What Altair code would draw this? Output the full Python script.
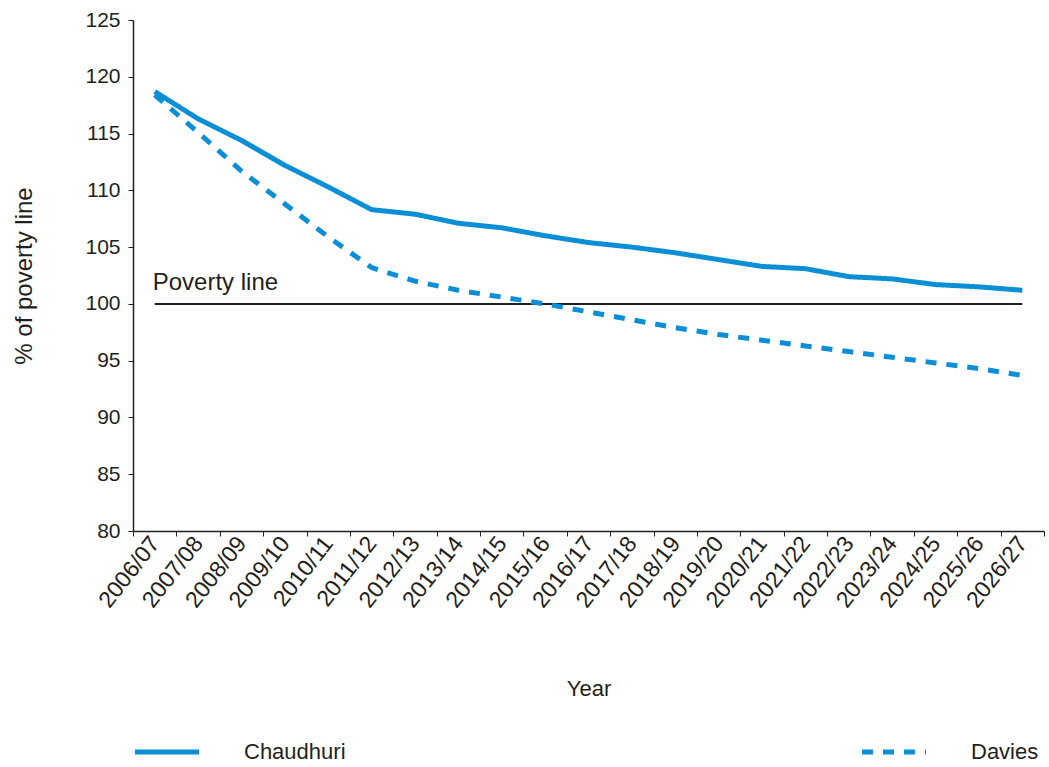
import altair as alt
import pandas as pd

years = ["2006/07", "2007/08", "2008/09", "2009/10", "2010/11", "2011/12", "2012/13",
         "2013/14", "2014/15", "2015/16", "2016/17", "2017/18", "2018/19", "2019/20",
         "2020/21", "2021/22", "2022/23", "2023/24", "2024/25", "2025/26", "2026/27"]
chaudhuri = [118.7, 116.3, 114.4, 112.2, 110.3, 108.3, 107.9, 107.1, 106.7, 106.0, 105.4,
             105.0, 104.5, 103.9, 103.3, 103.1, 102.4, 102.2, 101.7, 101.5, 101.2]
davies = [118.4, 115.1, 111.7, 108.8, 105.9, 103.2, 102.0, 101.2, 100.6, 100.0, 99.3,
          98.6, 97.9, 97.3, 96.8, 96.3, 95.8, 95.3, 94.8, 94.3, 93.7]
poverty = [100.0] * len(years)
series_names = ["Chaudhuri", "Davies"]

BLUE = "#0A8ED6"
INK = "#231F20"
FONT = "Liberation Sans"

rows = []
for name, vals in zip(series_names, [chaudhuri, davies]):
    for y, v in zip(years, vals):
        rows.append({"Year": y, "value": v, "series": name})
df = pd.DataFrame(rows)
pov_df = pd.DataFrame({"Year": years, "value": poverty})
label_df = pd.DataFrame({"Year": [years[0]], "value": [poverty[0]], "text": ["Poverty line"]})

xscale = alt.Scale(type="band", domain=years, paddingInner=0, paddingOuter=0)
yscale = alt.Scale(domain=[80, 125], nice=False, zero=False)

x_enc = alt.X(
    "Year:N", scale=xscale, bandPosition=0.5, sort=years, title="Year",
    axis=alt.Axis(labelAngle=-52, labelFontSize=23, labelFont=FONT, labelColor=INK,
                  tickBand="extent", tickSize=5, tickColor=INK, domainColor=INK,
                  domainWidth=1.5, titleFontSize=22, titleFont=FONT, titleColor=INK,
                  titleFontWeight="normal", titlePadding=67, labelPadding=3, grid=False),
)
y_enc = alt.Y(
    "value:Q", scale=yscale, title="% of poverty  line",
    axis=alt.Axis(values=list(range(80, 126, 5)), labelFontSize=21, labelFont=FONT,
                  labelColor=INK, tickSize=5, tickColor=INK, domainColor=INK,
                  domainWidth=1.5, titleFontSize=24, titleFont=FONT, titleColor=INK,
                  titleFontWeight="normal", titlePadding=48, labelPadding=8, grid=False),
)

lines = alt.Chart(df).mark_line(color=BLUE, strokeWidth=5).encode(
    x=x_enc,
    y=y_enc,
    strokeDash=alt.StrokeDash(
        "series:N",
        scale=alt.Scale(domain=series_names, range=[[1, 0], [11, 10]]),
        legend=alt.Legend(
            title=None, orient="none", legendX=-1, legendY=697, direction="horizontal",
            columns=2, columnPadding=505, symbolType="stroke", symbolSize=4100,
            symbolStrokeWidth=5, symbolStrokeColor=BLUE, labelFontSize=22,
            labelFont=FONT, labelColor=INK, labelOffset=42, labelLimit=300,
        ),
    ),
)

pov_line = alt.Chart(pov_df).mark_line(color=INK, strokeWidth=2).encode(
    x=alt.X("Year:N", scale=xscale, bandPosition=0.5, sort=years),
    y=alt.Y("value:Q", scale=yscale),
)

pov_text = alt.Chart(label_df).mark_text(
    align="left", baseline="alphabetic", dx=-2, dy=-14, fontSize=24, font=FONT, color=INK
).encode(
    x=alt.X("Year:N", scale=xscale, bandPosition=0.5, sort=years),
    y=alt.Y("value:Q", scale=yscale),
    text="text:N",
)

chart = alt.layer(pov_line, pov_text, lines).properties(
    width=911, height=511,
    padding={"left": 12, "top": 9, "right": 2, "bottom": 2},
).configure(background="white").configure_view(stroke=None)

chart.save("out.html", embed_options={"renderer": "svg", "actions": False})
